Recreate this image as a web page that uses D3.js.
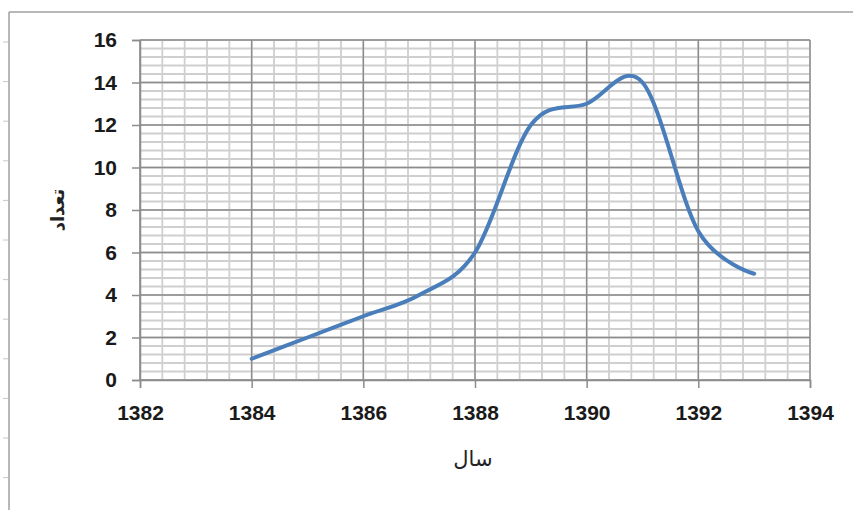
<!DOCTYPE html>
<html>
<head>
<meta charset="utf-8">
<script src="https://cdn.jsdelivr.net/npm/d3@7/dist/d3.min.js"></script>
<style>
  html, body { margin: 0; padding: 0; background: #fff; }
  svg { display: block; }
</style>
</head>
<body>
<svg id="chart" width="853" height="510"></svg>
<script>
const years = [1384, 1385, 1386, 1387, 1388, 1389, 1390, 1391, 1392, 1393];
const counts = [1, 2, 3, 4, 6, 12, 13, 14, 7, 5];
const xTickValues = [1382, 1384, 1386, 1388, 1390, 1392, 1394];
const yTickValues = [0, 2, 4, 6, 8, 10, 12, 14, 16];
const xTitle = "سال";
const yTitle = "تعداد";

const svg = d3.select("#chart");
const W = 853, H = 510;
const m = { left: 140, right: 810, top: 40, bottom: 380 };

const x = d3.scaleLinear().domain([1382, 1394]).range([m.left, m.right]);
const y = d3.scaleLinear().domain([0, 16]).range([m.bottom, m.top]);

// outer frame (top and left border) with small decorative ticks
svg.append("line").attr("x1", 9).attr("x2", W).attr("y1", 12).attr("y2", 12)
  .attr("stroke", "#a0a0a0").attr("stroke-width", 1.5);
svg.append("line").attr("x1", 9).attr("x2", 9).attr("y1", 12).attr("y2", H)
  .attr("stroke", "#a0a0a0").attr("stroke-width", 1.5);
svg.append("g").selectAll("line").data(d3.range(42, 500, 39.6)).join("line")
  .attr("x1", 3).attr("x2", 8).attr("y1", d => d).attr("y2", d => d)
  .attr("stroke", "#c8c8c8").attr("stroke-width", 1);

// minor gridlines
const xMinor = d3.range(0, 31).map(i => 1382 + i * 0.4);
const yMinor = d3.range(0, 41).map(i => i * 0.4);
const grid = svg.append("g");
grid.selectAll(".vminor").data(xMinor).join("line")
  .attr("x1", d => x(d)).attr("x2", d => x(d))
  .attr("y1", m.top).attr("y2", m.bottom)
  .attr("stroke", "#cfcfcf").attr("stroke-width", 1.8);
grid.selectAll(".hminor").data(yMinor).join("line")
  .attr("x1", m.left).attr("x2", m.right)
  .attr("y1", d => y(d)).attr("y2", d => y(d))
  .attr("stroke", "#cfcfcf").attr("stroke-width", 1.8);
// major gridlines
grid.selectAll(".vmajor").data(xTickValues).join("line")
  .attr("x1", d => x(d)).attr("x2", d => x(d))
  .attr("y1", m.top).attr("y2", m.bottom)
  .attr("stroke", "#8c8c8c").attr("stroke-width", 1.4);
grid.selectAll(".hmajor").data(yTickValues).join("line")
  .attr("x1", m.left).attr("x2", m.right)
  .attr("y1", d => y(d)).attr("y2", d => y(d))
  .attr("stroke", "#8c8c8c").attr("stroke-width", 1.4);

// axes
const font = "'Liberation Sans', Arial, sans-serif";
const xAxis = svg.append("g").attr("transform", `translate(0,${m.bottom})`)
  .call(d3.axisBottom(x).tickValues(xTickValues).tickFormat(d3.format("d")).tickSize(8).tickPadding(18));
const yAxis = svg.append("g").attr("transform", `translate(${m.left},0)`)
  .call(d3.axisLeft(y).tickValues(yTickValues).tickFormat(d3.format("d")).tickSize(8).tickPadding(15));
[xAxis, yAxis].forEach(a => {
  a.select(".domain").attr("stroke", "#8c8c8c").attr("stroke-width", 1.5);
  a.selectAll(".tick line").attr("stroke", "#8c8c8c").attr("stroke-width", 1.5);
  a.selectAll(".tick text").attr("fill", "#1a1a1a")
    .style("font-family", font).style("font-size", "21px").style("font-weight", "bold");
});
xAxis.selectAll(".tick text").attr("dy", "0.68em");

// data line
const line = d3.line()
  .x((d, i) => x(years[i]))
  .y(d => y(d))
  .curve(d3.curveCardinal.tension(0));
svg.append("path").datum(counts)
  .attr("d", line)
  .attr("fill", "none")
  .attr("stroke", "#4a7ebb")
  .attr("stroke-width", 4)
  .attr("stroke-linecap", "round")
  .attr("stroke-linejoin", "round");

// axis titles
svg.append("text").attr("x", 473).attr("y", 460)
  .attr("text-anchor", "middle").attr("dominant-baseline", "middle")
  .attr("fill", "#222").style("font-family", "'DejaVu Sans', 'Noto Sans', sans-serif")
  .style("font-size", "21px").text(xTitle);
svg.append("text").attr("transform", "translate(59,210) rotate(-90)")
  .attr("text-anchor", "middle").attr("dominant-baseline", "middle")
  .attr("fill", "#222").style("font-family", "'DejaVu Sans', 'Noto Sans', sans-serif")
  .style("font-size", "18px").style("font-weight", "bold").text(yTitle);
</script>
</body>
</html>
